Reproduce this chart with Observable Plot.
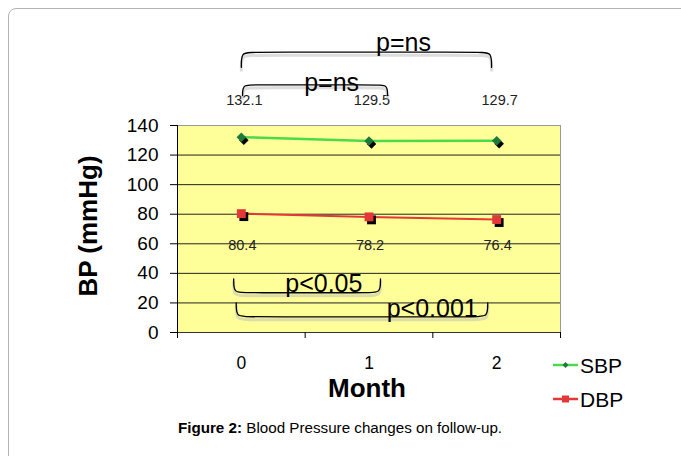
<!DOCTYPE html>
<html><head><meta charset="utf-8">
<script src="https://cdn.jsdelivr.net/npm/d3@7"></script>
<script src="https://cdn.jsdelivr.net/npm/@observablehq/plot@0.6"></script>
<style>
html,body{margin:0;padding:0;background:#fff;overflow:hidden;}
#wrap{position:relative;width:681px;height:456px;overflow:hidden;font-family:"Liberation Sans",Arial,sans-serif;}
#border{position:absolute;left:8px;top:8px;width:720px;height:500px;border:1.5px solid #b4b4b4;border-radius:8px;box-sizing:border-box;}
#chart{position:absolute;left:0;top:0;}
</style></head><body>
<div id="wrap"><div id="border"></div><div id="chart"></div></div>
<script>
// ---- data ----
const months = [0, 1, 2];
const monthLabels = ["0", "1", "2"];
const sbp = [132.1, 129.5, 129.7];
const dbp = [80.4, 78.2, 76.4];
const seriesNames = ["SBP", "DBP"];
const yTicks = [0, 20, 40, 60, 80, 100, 120, 140];
const gridValues = [20, 40, 60, 80, 100, 120];
const categoryEdges = [-0.5, 0.5, 1.5, 2.5];
// significance brackets (annotation geometry in data units)
const brackets = [
  {id: 0, label: "p=ns",    x1: 0.00,  x2: 1.96,  yEnd: 179.4, yTip: 189.6, tx: 1.27,  ty: 196.1},
  {id: 1, label: "p=ns",    x1: 0.01,  x2: 1.145, yEnd: 160.3, yTip: 167.5, tx: 0.707, ty: 169.0},
  {id: 2, label: "p<0.05",  x1: -0.06, x2: 1.09,  yEnd: 36.3,  yTip: 26.9,  tx: 0.646, ty: 32.7},
  {id: 3, label: "p<0.001", x1: -0.04, x2: 1.93,  yEnd: 20.1,  yTip: 10.6,  tx: 1.495, ty: 15.8}
];

const sbpRows = months.map((m, i) => ({month: m, value: sbp[i], series: seriesNames[0]}));
const dbpRows = months.map((m, i) => ({month: m, value: dbp[i], series: seriesNames[1]}));

const d = 0.08;
const bracketPts = brackets.flatMap(b => [
  {id: b.id, x: b.x1, y: b.yEnd},
  {id: b.id, x: b.x1, y: b.yTip},
  {id: b.id, x: b.x1 + d, y: b.yTip},
  {id: b.id, x: b.x2 - d, y: b.yTip},
  {id: b.id, x: b.x2, y: b.yTip},
  {id: b.id, x: b.x2, y: b.yEnd}
]);

const green = "#4cd94c", greenDark = "#1d7a3a", red = "#e43838";
const fmt = v => v.toFixed(1);

const chart = Plot.plot({
  width: 681,
  height: 456,
  marginLeft: 177,
  marginRight: 121,
  marginTop: 125,
  marginBottom: 124,
  style: {fontFamily: "'Liberation Sans', Arial, sans-serif", color: "#000", background: "transparent", overflow: "visible"},
  x: {type: "linear", domain: [-0.5, 2.5], label: null},
  y: {domain: [0, 140], label: null},
  marks: [
    Plot.frame({fill: "#ffff99", stroke: "none"}),
    Plot.ruleY(gridValues, {stroke: "#222", strokeWidth: 1}),
    Plot.ruleY([140], {stroke: "#999", strokeWidth: 1}),
    Plot.ruleX([2.5], {stroke: "#999", strokeWidth: 1}),
    Plot.ruleY([0], {stroke: "#333", strokeWidth: 1}),
    Plot.ruleX([-0.5], {stroke: "#000", strokeWidth: 1}),
    Plot.axisY(yTicks, {tickSize: 7, tickPadding: 12, fontSize: 19, label: null}),
    Plot.axisX(categoryEdges, {tickSize: 6, tickFormat: () => "", label: null}),
    Plot.axisX(months, {tickSize: 0, tickPadding: 24, fontSize: 17.5, label: null, tickFormat: v => monthLabels[months.indexOf(v)]}),
    // series
    Plot.line(sbpRows, {x: "month", y: "value", stroke: green, strokeWidth: 2.5}),
    Plot.line(dbpRows, {x: "month", y: "value", stroke: red, strokeWidth: 2}),
    Plot.dot(sbpRows, {x: "month", y: "value", symbol: "diamond2", r: 4.3, fill: "#000", stroke: "none", dx: 2.5, dy: 3}),
    Plot.dot(sbpRows, {x: "month", y: "value", symbol: "diamond2", r: 4.3, fill: greenDark, stroke: "none"}),
    Plot.dot(dbpRows, {x: "month", y: "value", symbol: "square", r: 5, fill: "#000", stroke: "none", dx: 2.5, dy: 3}),
    Plot.dot(dbpRows, {x: "month", y: "value", symbol: "square", r: 5, fill: red, stroke: "none"}),
    // data labels
    Plot.text(sbpRows, {x: "month", text: d => fmt(d.value), frameAnchor: "top", lineAnchor: "middle", dy: -25, dx: 3, fontSize: 14.5, fill: "#222"}),
    Plot.text(dbpRows, {x: "month", text: d => fmt(d.value), frameAnchor: "bottom", lineAnchor: "middle", dy: -87, dx: 1, fontSize: 14.5, fill: "#222"}),
    // brackets
    Plot.line(bracketPts, {x: "x", y: "y", z: "id", curve: "basis", stroke: "#bbb", strokeWidth: 3, strokeOpacity: 0.5, dy: 3}),
    Plot.line(bracketPts, {x: "x", y: "y", z: "id", curve: "basis", stroke: "#000", strokeWidth: 1.3}),
    Plot.text(brackets, {x: "tx", y: "ty", text: "label", fontSize: 25, lineAnchor: "middle", fill: "#000"}),
    // axis titles
    Plot.text(["Month"], {frameAnchor: "bottom", lineAnchor: "middle", textAnchor: "middle", dy: 55.7, dx: -2, fontSize: 26, fontWeight: "bold"}),
    Plot.text(["BP (mmHg)"], {frameAnchor: "left", lineAnchor: "middle", textAnchor: "middle", rotate: -90, dx: -89, dy: -3, fontSize: 26, fontWeight: "bold"})
  ]
});

document.getElementById("chart").appendChild(chart);

// legend
const svg = d3.select(chart);
const legend = svg.append("g").attr("font-family", "'Liberation Sans', Arial, sans-serif").attr("text-anchor", "start");
const legendItems = [
  {name: seriesNames[0], color: green, marker: greenDark, sym: d3.symbolDiamond2, size: 22, y: 365},
  {name: seriesNames[1], color: red, marker: red, sym: d3.symbolSquare, size: 49, y: 399}
];
legendItems.forEach(it => {
  const g = legend.append("g");
  g.append("line").attr("x1", 553).attr("x2", 578).attr("y1", it.y).attr("y2", it.y)
    .attr("stroke", it.color).attr("stroke-width", 2.5);
  g.append("path").attr("d", d3.symbol(it.sym, it.size)()).attr("transform", `translate(565.5,${it.y})`)
    .attr("fill", it.marker);
  g.append("text").attr("x", 580).attr("y", it.y + 7.5).attr("text-anchor", "start")
    .attr("font-size", 21).attr("fill", "#000").text(it.name);
});

// caption
const cap = svg.append("text").attr("x", 340).attr("y", 433).attr("text-anchor", "middle")
  .attr("font-size", 15.2).attr("font-family", "'Liberation Sans', Arial, sans-serif").attr("fill", "#000");
cap.append("tspan").attr("font-weight", "bold").text("Figure 2:");
cap.append("tspan").text(" Blood Pressure changes on follow-up.");
</script>
</body></html>
